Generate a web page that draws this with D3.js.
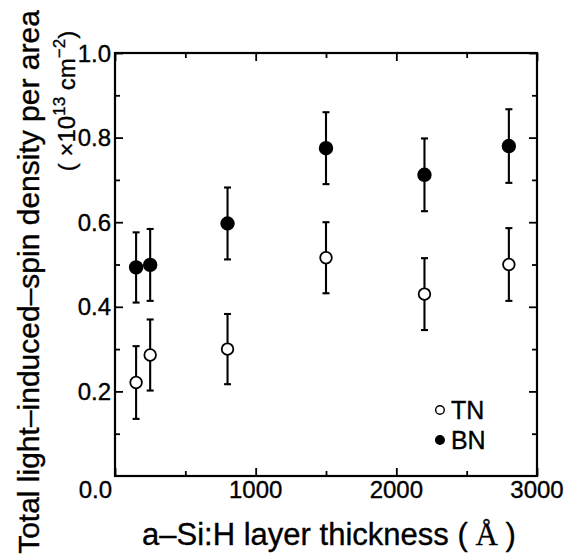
<!DOCTYPE html>
<html>
<head>
<meta charset="utf-8">
<script src="https://cdn.jsdelivr.net/npm/d3@7"></script>
<style>
  body { margin: 0; background: #fff; }
  svg text { font-family: "Liberation Sans", Arial, Helvetica, sans-serif; fill: #000; stroke: #000; stroke-width: 0.35; }
</style>
</head>
<body>
<div id="chart"></div>
<script>
// --- data ---
const thickness = [150, 250, 800, 1500, 2200, 2800];
const tnValues = [0.221, 0.286, 0.300, 0.516, 0.430, 0.500];
const tnErrors = [0.086, 0.084, 0.083, 0.084, 0.085, 0.086];
const bnValues = [0.493, 0.499, 0.597, 0.775, 0.712, 0.780];
const bnErrors = [0.083, 0.085, 0.085, 0.085, 0.086, 0.087];
const xTicks = [1000, 2000, 3000];
const xMinorTicks = [0, 500, 1000, 1500, 2000, 2500, 3000];
const yTicks = [0.2, 0.4, 0.6, 0.8, 1.0];
const yMinorTicks = [0, 0.1, 0.2, 0.3, 0.4, 0.5, 0.6, 0.7, 0.8, 0.9, 1.0];
const seriesNames = ['TN', 'BN'];

const W = 568, H = 556;
const plot = { left: 115, right: 537, top: 53, bottom: 476 };

const svg = d3.select('#chart').append('svg')
    .attr('width', W).attr('height', H);

const x = d3.scaleLinear().domain([0, 3000]).range([plot.left, plot.right]);
const y = d3.scaleLinear().domain([0, 1.0]).range([plot.bottom, plot.top]);

// ticks on all four sides, pointing inward
function tickAxis(axisFn, scale, vals, size, transform) {
    const g = svg.append('g')
        .attr('transform', transform)
        .call(axisFn(scale).tickValues(vals).tickSize(-size).tickFormat(''));
    g.select('.domain').remove();
    g.selectAll('line').attr('stroke', '#000').attr('stroke-width', 1.8);
    return g;
}
const xMajorAll = [0, 1000, 2000, 3000];
const xMinorOnly = xMinorTicks.filter(v => !xMajorAll.includes(v));
tickAxis(d3.axisBottom, x, xMinorOnly, 5, `translate(0,${plot.bottom})`);
tickAxis(d3.axisBottom, x, xMajorAll, 8, `translate(0,${plot.bottom})`);
tickAxis(d3.axisTop, x, xMinorOnly, 5, `translate(0,${plot.top})`);
tickAxis(d3.axisTop, x, xMajorAll, 8, `translate(0,${plot.top})`);
const yMinorOnly = yMinorTicks.filter(v => Math.round(v * 10) % 2 === 1);
tickAxis(d3.axisLeft, y, yMinorOnly, 5, `translate(${plot.left},0)`);
tickAxis(d3.axisLeft, y, yTicks, 8, `translate(${plot.left},0)`);
tickAxis(d3.axisRight, y, yMinorOnly, 5, `translate(${plot.right},0)`);
tickAxis(d3.axisRight, y, yTicks, 8, `translate(${plot.right},0)`);

// frame
svg.append('rect')
    .attr('x', x(0)).attr('y', y(1))
    .attr('width', x(3000) - x(0)).attr('height', y(0) - y(1))
    .attr('fill', 'none').attr('stroke', '#000').attr('stroke-width', 2.2);

// tick labels
const labelSize = 24;
svg.append('g').selectAll('text').data(yTicks).join('text')
    .attr('x', plot.left - 4)
    .attr('y', d => y(d))
    .attr('dy', '0.36em')
    .attr('text-anchor', 'end')
    .attr('font-size', labelSize)
    .text(d => d.toFixed(1));
svg.append('g').selectAll('text').data(xTicks).join('text')
    .attr('x', d => x(d))
    .attr('y', plot.bottom + 22)
    .attr('text-anchor', 'middle')
    .attr('font-size', labelSize)
    .text(d => d);
// shared corner label
svg.append('text')
    .attr('x', plot.left - 3)
    .attr('y', plot.bottom + 22)
    .attr('text-anchor', 'end')
    .attr('font-size', labelSize)
    .text((0).toFixed(1));

// axis titles
const xt = svg.append('text')
    .attr('x', (plot.left + plot.right) / 2 + 3)
    .attr('y', 545)
    .attr('text-anchor', 'middle')
    .attr('font-size', 31);
xt.append('tspan').text('a\u2013Si:H layer thickness (');
xt.append('tspan').attr('font-family', '"Liberation Serif", "DejaVu Serif", serif').text(' \u00C5 ');
xt.append('tspan').text(')');

svg.append('text')
    .attr('transform', 'translate(39,282) rotate(-90)')
    .attr('text-anchor', 'middle')
    .attr('font-size', 30)
    .text('Total light\u2013induced\u2013spin density per area');

const yt2 = svg.append('text')
    .attr('transform', 'translate(75,101) rotate(-90)')
    .attr('text-anchor', 'middle')
    .attr('font-size', 24);
yt2.append('tspan').text('( \u00D710');
yt2.append('tspan').attr('font-size', 17).attr('dy', -10).text('13');
yt2.append('tspan').attr('dy', 10).text(' cm');
yt2.append('tspan').attr('font-size', 17).attr('dy', -10).text('\u22122');
yt2.append('tspan').attr('dy', 10).text(')');

// error bars + markers
function drawSeries(vals, errs, filled) {
    const data = thickness.map((t, i) => ({ t, v: vals[i], e: errs[i] }));
    const g = svg.append('g').attr('stroke', '#000').attr('stroke-width', 2.1);
    g.selectAll('line.bar').data(data).join('line')
        .attr('class', 'bar')
        .attr('x1', d => x(d.t)).attr('x2', d => x(d.t))
        .attr('y1', d => y(d.v - d.e)).attr('y2', d => y(d.v + d.e));
    ['lo', 'hi'].forEach(s => {
        g.selectAll('line.cap-' + s).data(data).join('line')
            .attr('class', 'cap-' + s)
            .attr('x1', d => x(d.t) - 3.5).attr('x2', d => x(d.t) + 3.5)
            .attr('y1', d => y(s === 'hi' ? d.v + d.e : d.v - d.e))
            .attr('y2', d => y(s === 'hi' ? d.v + d.e : d.v - d.e));
    });
    g.selectAll('circle').data(data).join('circle')
        .attr('cx', d => x(d.t)).attr('cy', d => y(d.v))
        .attr('r', filled ? 6.3 : 5.8)
        .attr('fill', filled ? '#000' : '#fff')
        .attr('stroke-width', 1.8);
}
drawSeries(tnValues, tnErrors, false);
drawSeries(bnValues, bnErrors, true);

// legend
const legendX = 2310, legendY = [0.156, 0.085];
seriesNames.forEach((name, i) => {
    svg.append('circle')
        .attr('cx', x(legendX)).attr('cy', y(legendY[i]))
        .attr('r', 4.3)
        .attr('fill', i === 0 ? '#fff' : '#000')
        .attr('stroke', '#000').attr('stroke-width', 1.4);
    svg.append('text')
        .attr('x', x(legendX) + 11).attr('y', y(legendY[i]))
        .attr('dy', '0.36em')
        .attr('font-size', 25)
        .text(name);
});
</script>
</body>
</html>
